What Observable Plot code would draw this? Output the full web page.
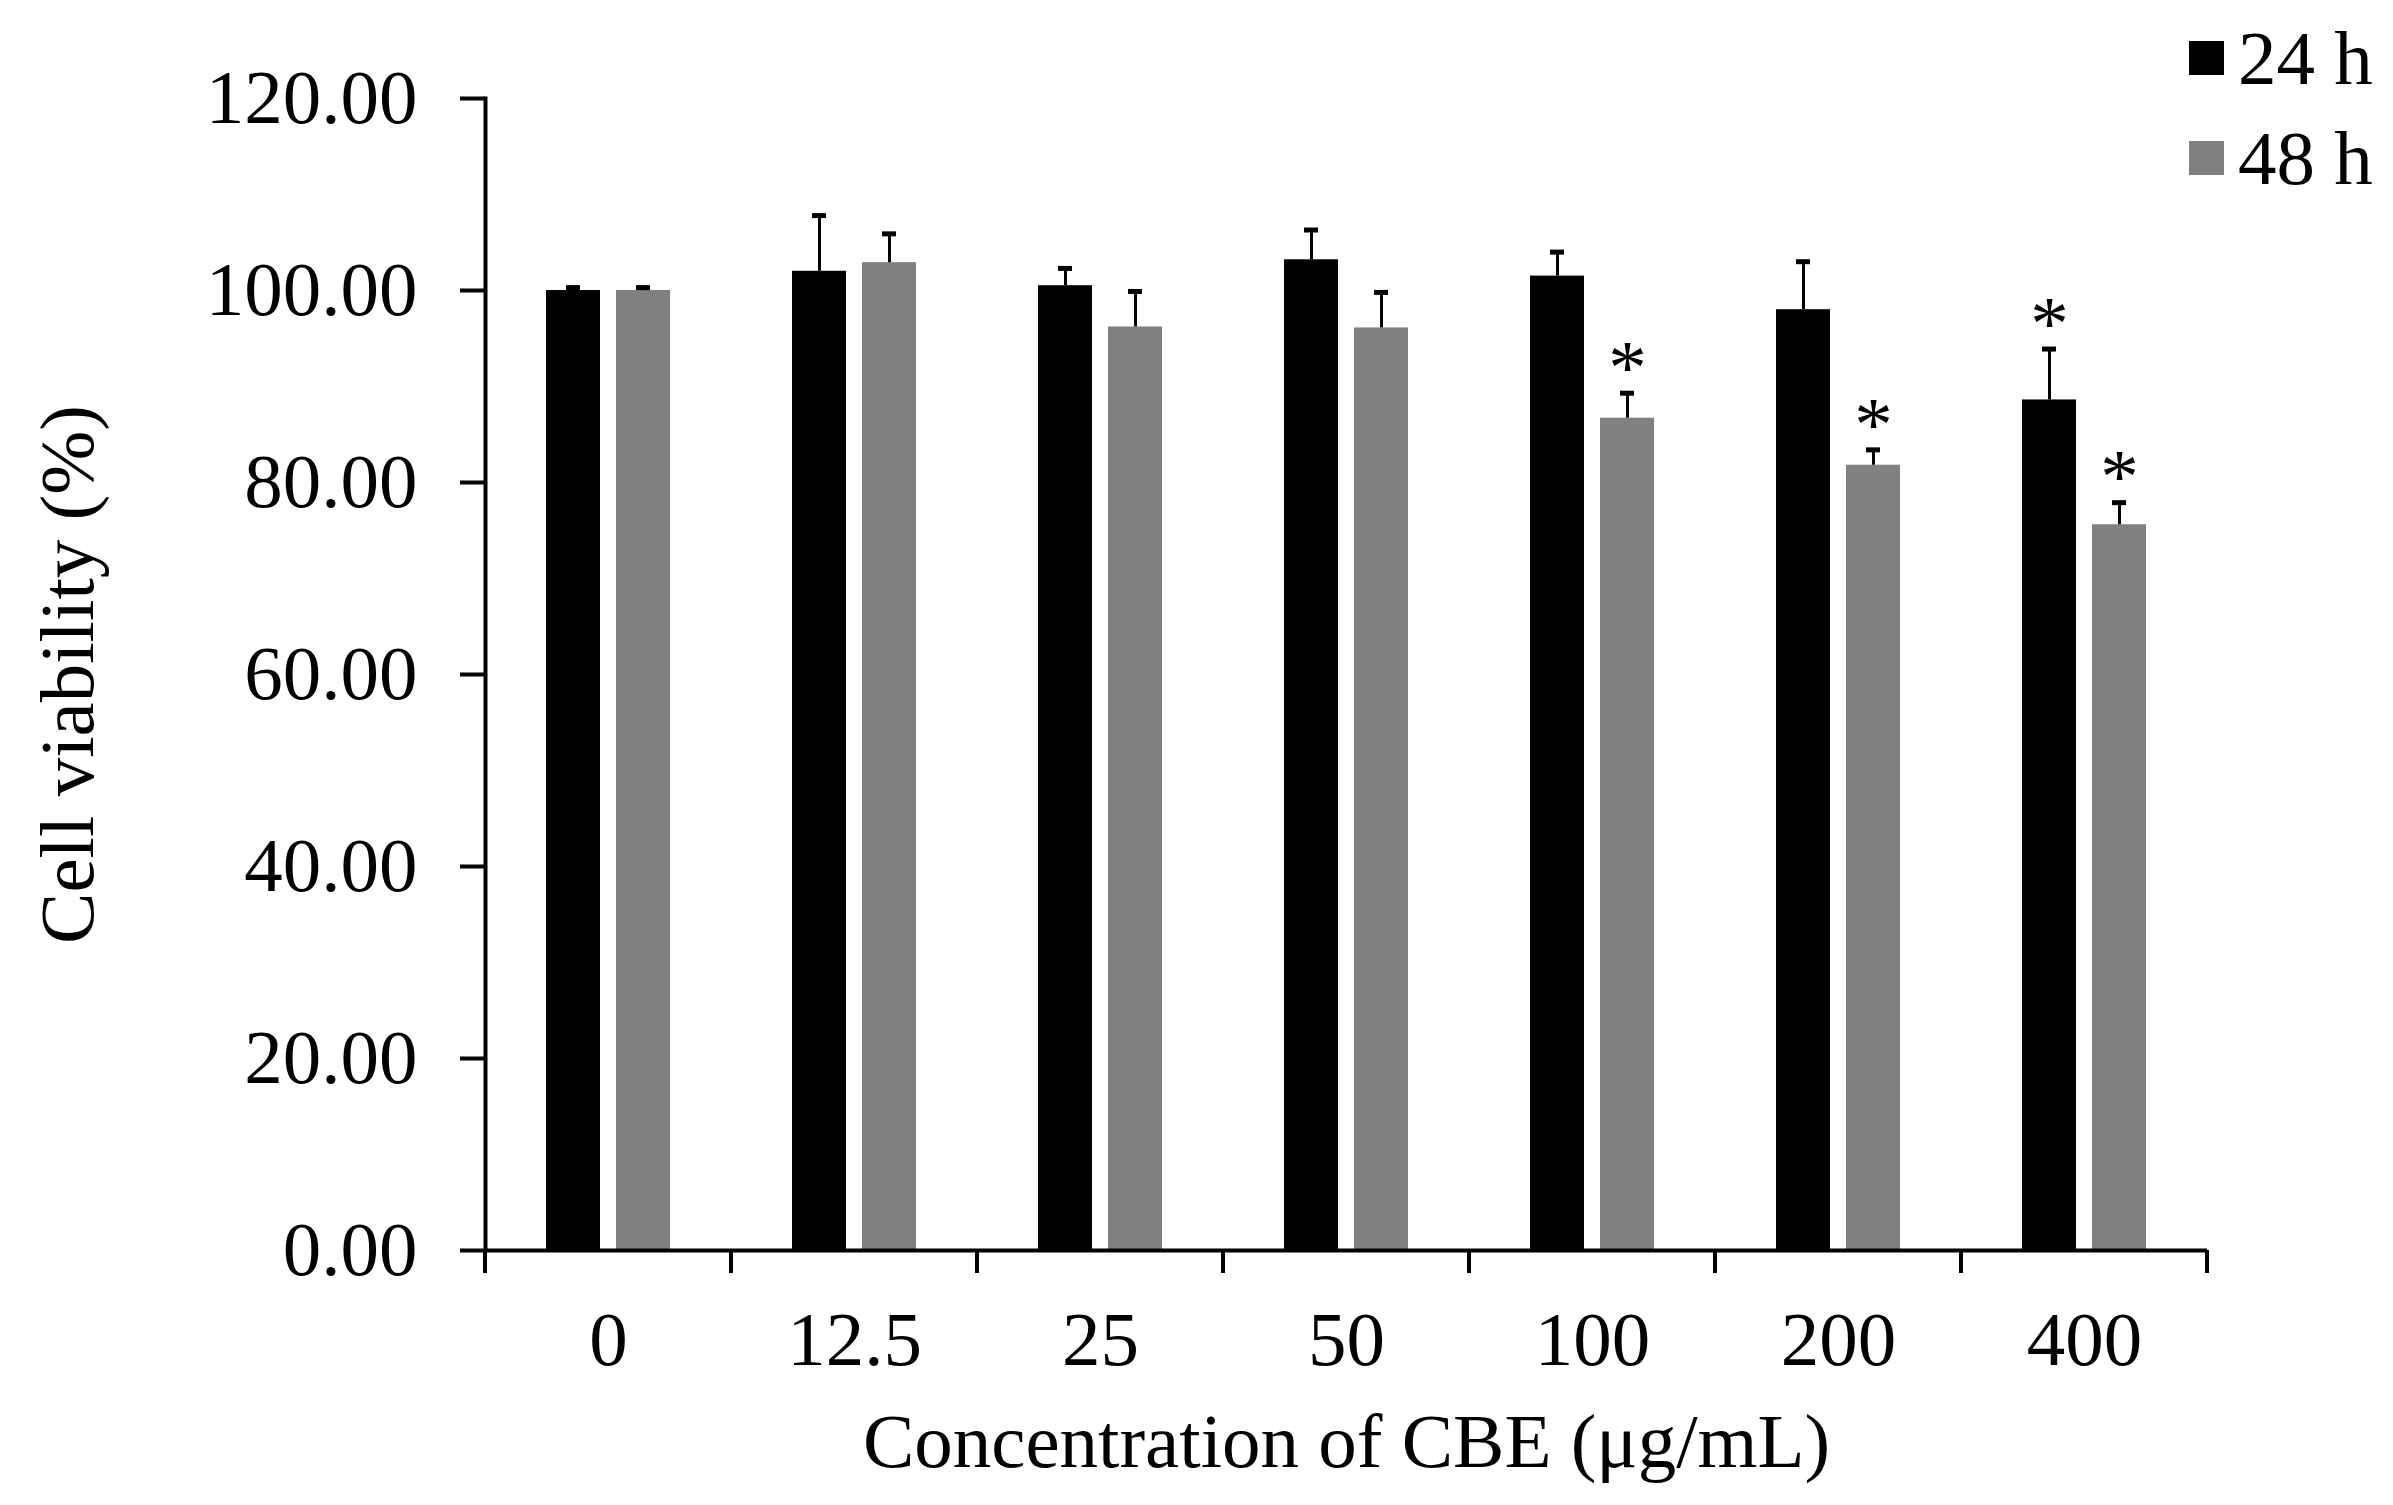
<!DOCTYPE html>
<html>
<head>
<meta charset="utf-8">
<script src="https://cdn.jsdelivr.net/npm/d3@7"></script>
<script src="https://cdn.jsdelivr.net/npm/@observablehq/plot@0.6"></script>
<style>
  html, body { margin: 0; padding: 0; background: #ffffff; }
  #wrap { position: relative; width: 2393px; height: 1505px; }
  #legend { position: absolute; left: 2189px; top: 8px; font-family: "Liberation Serif", serif; font-size: 77px; color: #000; }
  .item { display: flex; align-items: center; height: 100px; }
  .sw { width: 35px; height: 34px; margin-right: 14px; }
</style>
</head>
<body>
<div id="wrap"><div id="legend"></div></div>
<script>
// ---- data ----
const concentrations = ["0", "12.5", "25", "50", "100", "200", "400"];
const series = ["24 h", "48 h"];
const mean24 = [100.0, 102.0, 100.5, 103.2, 101.5, 98.0, 88.6];
const sd24   = [0.3, 5.8, 1.8, 3.1, 2.5, 5.0, 5.3];
const mean48 = [100.0, 102.9, 96.2, 96.1, 86.7, 81.8, 75.6];
const sd48   = [0.3, 3.0, 3.7, 3.7, 2.6, 1.6, 2.3];
const sig24  = [false, false, false, false, false, false, true];
const sig48  = [false, false, false, false, true, true, true];
const colors = ["#000000", "#808080"];
const yTicks = [0, 20, 40, 60, 80, 100, 120];

const rows = concentrations.flatMap((c, i) => [
  {conc: c, series: series[0], mean: mean24[i], sd: sd24[i], sig: sig24[i]},
  {conc: c, series: series[1], mean: mean48[i], sd: sd48[i], sig: sig48[i]}
]);

const W = 2393, H = 1505, ML = 482, MR = 183, MT = 98, MB = 255;

const chart = Plot.plot({
  width: W, height: H,
  marginLeft: ML, marginRight: MR, marginTop: MT, marginBottom: MB,
  style: {fontFamily: "Liberation Serif", fontSize: "77px", background: "white", color: "black"},
  fx: {domain: concentrations, paddingInner: 0, paddingOuter: 0, label: null},
  x: {domain: series, paddingInner: 0.225, paddingOuter: 0.85, axis: null},
  y: {domain: [0, 120], axis: null},
  color: {domain: series, range: colors},
  marks: [
    Plot.barY(rows, {fx: "conc", x: "series", y: "mean", fill: "series"}),
    Plot.ruleX(rows, {fx: "conc", x: "series", y1: "mean", y2: d => d.mean + d.sd, stroke: "black", strokeWidth: 3}),
    Plot.tickY(rows, {fx: "conc", x: "series", y: d => d.mean + d.sd, stroke: "black", strokeWidth: 5, insetLeft: 20, insetRight: 20}),
    Plot.text(rows.filter(d => d.sig), {fx: "conc", x: "series", y: d => d.mean + d.sd, text: () => "*", dy: -25, lineAnchor: "middle", fontSize: 77, fill: "black"}),
    Plot.ruleY([0], {stroke: "black", strokeWidth: 4}),
    Plot.frame({anchor: "left", facetAnchor: "left", stroke: "black", strokeWidth: 4}),
    Plot.axisY({
      ticks: yTicks, tickFormat: d3.format(".2f"), tickSize: 25, tickPadding: 43,
      stroke: "black", strokeWidth: 4, fontSize: 77,
      label: "Cell viability (%)", labelAnchor: "center", labelArrow: "none", labelOffset: 447
    }),
    Plot.axisFx({
      anchor: "bottom", tickSize: 0, tickPadding: 60, fontSize: 77,
      label: "Concentration of CBE (μg/mL)", labelAnchor: "center", labelArrow: "none", labelOffset: 216
    })
  ]
});

// category boundary ticks on the x axis (Excel style), positioned from Plot's own scales
const fxs = chart.scale("fx");
const ys = chart.scale("y");
const bounds = concentrations.map(c => fxs.apply(c));
bounds.push(fxs.apply(concentrations[concentrations.length - 1]) + fxs.bandwidth);
const y0 = ys.apply(0);
d3.select(chart).append("g")
  .attr("stroke", "black").attr("stroke-width", 4)
  .selectAll("line").data(bounds).join("line")
  .attr("x1", d => d).attr("x2", d => d)
  .attr("y1", y0).attr("y2", y0 + 23);

document.getElementById("wrap").prepend(chart);

// legend
const lg = d3.select("#legend");
series.forEach((s, i) => {
  const it = lg.append("div").attr("class", "item");
  it.append("div").attr("class", "sw").style("background", colors[i]);
  it.append("span").text(s);
});
</script>
</body>
</html>
